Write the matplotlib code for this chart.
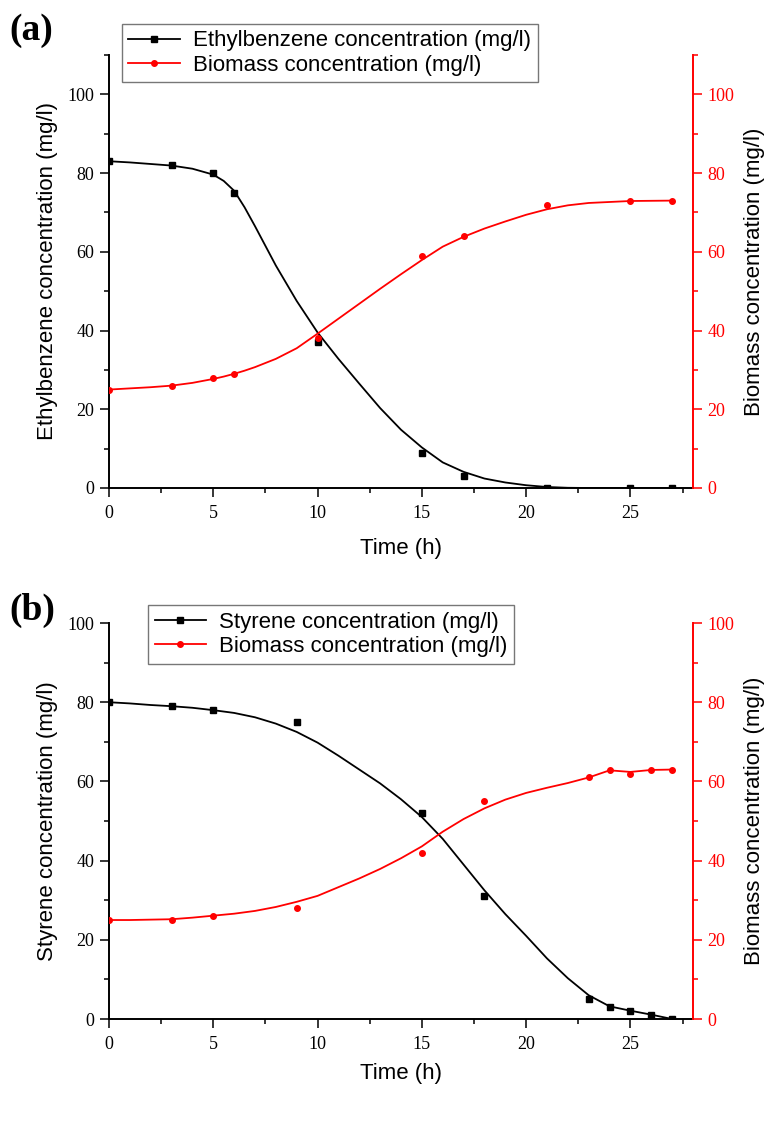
import matplotlib
matplotlib.use("Agg")
import matplotlib.pyplot as plt
from matplotlib.lines import Line2D
from matplotlib.ticker import MultipleLocator

plt.rcParams["font.family"] = ["Liberation Serif", "DejaVu Serif"]
SANS = ["Liberation Sans", "DejaVu Sans"]
RED = "#ff0000"

# ---------- (a) ethylbenzene: measured points ----------
eb_t      = [0, 3, 5, 6, 10, 15, 17, 21, 25, 27]
eb_val    = [83, 82, 80, 75, 37, 9, 3, 0, 0, 0]
bio_a_t   = [0, 3, 5, 6, 10, 15, 17, 21, 25, 27]
bio_a_val = [25, 26, 28, 29, 38, 59, 64, 72, 73, 73]

# (a) fitted curves
fit_a_t   = [0, 1, 2, 3, 4, 5, 5.5, 6, 6.5, 7, 8, 9, 10, 11, 12, 13, 14,
             15, 16, 17, 18, 19, 20, 21, 22, 23, 25, 27]
eb_fit    = [83, 82.7, 82.3, 81.9, 81.1, 79.6, 78, 75.5, 71.3, 66.5, 56.5,
             47.5, 39.5, 32.8, 26.5, 20.3, 14.8, 10.3, 6.5, 4.1, 2.4, 1.4,
             0.7, 0.25, 0.05, 0, 0, 0]
bio_a_fit = [25, 25.3, 25.6, 26, 26.7, 27.7, 28.3, 29, 29.8, 30.7, 32.8,
             35.5, 39.2, 43, 46.8, 50.6, 54.3, 57.9, 61.3, 63.8, 65.9, 67.7,
             69.4, 70.8, 71.8, 72.4, 72.9, 73]

# ---------- (b) styrene: measured points ----------
sty_t     = [0, 3, 5, 9, 15, 18, 23, 24, 25, 26, 27]
sty_val   = [80, 79, 78, 75, 52, 31, 5, 3, 2, 1, 0]
bio_b_t   = [0, 3, 5, 9, 15, 18, 23, 24, 25, 26, 27]
bio_b_val = [25, 25, 26, 28, 42, 55, 61, 63, 62, 63, 63]

# (b) fitted curves
fit_b_t   = [0, 1, 2, 3, 4, 5, 6, 7, 8, 9, 10, 11, 12, 13, 14, 15, 16, 17,
             18, 19, 20, 21, 22, 23, 24, 25, 26, 27]
sty_fit   = [80, 79.7, 79.3, 79, 78.6, 78, 77.3, 76.2, 74.6, 72.5, 69.8,
             66.5, 63, 59.5, 55.5, 51, 45.5, 39, 32.5, 26.5, 21, 15.3, 10.3,
             6, 3.2, 2.1, 1.1, 0]
bio_b_fit = [25, 25, 25.1, 25.2, 25.6, 26.1, 26.6, 27.3, 28.3, 29.6, 31.1,
             33.3, 35.5, 37.9, 40.6, 43.6, 47.3, 50.5, 53.2, 55.4, 57.1, 58.4,
             59.6, 61, 62.8, 62.4, 62.9, 63]

x_ticks = [0, 5, 10, 15, 20, 25]


def panel(fig, rect, ymax, t_pts, s_pts, b_t, b_pts, t_fit, s_fit, b_fit,
          ylabel, legend_label, legend_anchor, tag, tag_y, xlabelpad):
    ax = fig.add_axes(rect)
    ax2 = ax.twinx()

    ax.plot(t_fit, s_fit, color="k", lw=1.3)
    ax.plot(t_pts, s_pts, ls="none", marker="s", ms=4, color="k")
    ax2.plot(t_fit, b_fit, color=RED, lw=1.3)
    ax2.plot(b_t, b_pts, ls="none", marker="o", ms=4, color=RED)

    for a in (ax, ax2):
        a.set_xlim(0, 28)
        a.set_ylim(0, ymax)
        a.yaxis.set_major_locator(MultipleLocator(20))
        a.yaxis.set_minor_locator(MultipleLocator(10))
        a.spines["top"].set_visible(False)
    ax.set_xticks(x_ticks)
    ax.xaxis.set_minor_locator(MultipleLocator(2.5))
    ax.spines["right"].set_visible(False)
    ax2.spines["left"].set_visible(False)
    ax2.spines["bottom"].set_visible(False)
    ax2.spines["right"].set_color(RED)
    for sp in ("left", "bottom"):
        ax.spines[sp].set_linewidth(1.4)
    ax2.spines["right"].set_linewidth(1.4)

    ax.tick_params(which="major", direction="out", length=6.5, width=1.1,
                   labelsize=13, pad=4)
    ax.tick_params(axis="x", which="major", pad=6)
    ax.tick_params(which="minor", direction="out", length=3.5, width=1.1)
    ax2.tick_params(which="major", direction="out", length=6.5, width=1.1,
                    labelsize=13, pad=4, colors=RED)
    ax2.tick_params(which="minor", direction="out", length=3.5, width=1.1,
                    colors=RED)

    ax.set_xlabel("Time (h)", family=SANS, fontsize=16, labelpad=xlabelpad)
    ax.set_ylabel(ylabel, family=SANS, fontsize=16, labelpad=7)
    ax2.set_ylabel("Biomass concentration (mg/l)", family=SANS, fontsize=16,
                   labelpad=7, color="k")

    handles = [Line2D([], [], color="k", lw=1.3, marker="s", ms=4),
               Line2D([], [], color=RED, lw=1.3, marker="o", ms=4)]
    leg = fig.legend(handles, [legend_label, "Biomass concentration (mg/l)"],
                     loc="upper left", bbox_to_anchor=legend_anchor,
                     prop={"family": SANS, "size": 16}, fancybox=False,
                     edgecolor="#555555", handlelength=2.3, handletextpad=0.6,
                     borderpad=0.3, labelspacing=0.15, borderaxespad=0)
    leg.get_frame().set_linewidth(1.0)

    fig.text(0.012, tag_y, tag, fontsize=27, fontweight="bold", va="center",
             ha="left")
    return ax, ax2


fig = plt.figure(figsize=(7.66, 11.33), dpi=100)

panel(fig, [0.1423, 0.5693, 0.7624, 0.3822], 110,
      eb_t, eb_val, bio_a_t, bio_a_val, fit_a_t, eb_fit, bio_a_fit,
      "Ethylbenzene concentration (mg/l)",
      "Ethylbenzene concentration (mg/l)", (0.159, 0.979),
      "(a)", 1 - 31 / 1133, 11)

panel(fig, [0.1423, 0.1006, 0.7624, 0.3495], 100,
      sty_t, sty_val, bio_b_t, bio_b_val, fit_b_t, sty_fit, bio_b_fit,
      "Styrene concentration (mg/l)",
      "Styrene concentration (mg/l)", (0.193, 0.466),
      "(b)", 1 - 610 / 1133, 7)

fig.savefig("out.png", dpi=100)
